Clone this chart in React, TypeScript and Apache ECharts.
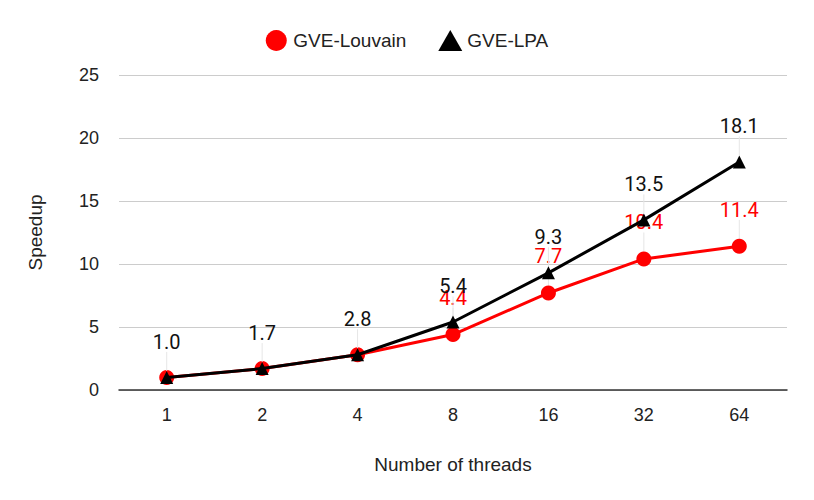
import React, { useEffect, useRef } from "react";
import * as echarts from "echarts";

const threads = ["1", "2", "4", "8", "16", "32", "64"];
const louvain = [1.0, 1.7, 2.8, 4.4, 7.7, 10.4, 11.4];
const lpa = [1.0, 1.7, 2.8, 5.4, 9.3, 13.5, 18.1];
// Louvain labels hidden where they coincide with the LPA labels
const louvainLabelShown = [false, false, false, true, true, true, true];

export default function App() {
  const ref = useRef<HTMLDivElement>(null);
  useEffect(() => {
    const chart = echarts.init(ref.current!, null, { renderer: "svg" });
    const font = "Liberation Sans";
    const labelFont = "Roboto";
    const mkLabel = (color: string) => ({
      show: true,
      position: "top",
      distance: 4,
      color,
      fontSize: 20,
      fontFamily: labelFont,
      formatter: (p: any) => Number(p.value).toFixed(1),
    });
    chart.setOption({
      animation: false,
      textStyle: { fontFamily: font },
      legend: {
        top: 17,
        left: "center",
        itemGap: 32,
        itemWidth: 24,
        itemHeight: 21,
        textStyle: { fontSize: 19, color: "#222", fontFamily: font },
        data: [
          { name: "GVE-Louvain", icon: "circle" },
          { name: "GVE-LPA", icon: "triangle" },
        ],
      },
      grid: { left: 111, right: 19, top: 67, bottom: 102 },
      xAxis: {
        type: "category",
        data: threads,
        name: "Number of threads",
        nameLocation: "middle",
        nameGap: 65,
        nameTextStyle: { fontSize: 19, color: "#222", fontFamily: font },
        axisLine: { lineStyle: { color: "#333", width: 1.5 } },
        axisTick: { show: false },
        axisLabel: { fontSize: 18, color: "#222", margin: 16, fontFamily: font },
      },
      yAxis: {
        type: "value",
        min: 0,
        max: 25,
        interval: 5,
        name: "Speedup",
        nameLocation: "middle",
        nameGap: 74,
        nameTextStyle: { fontSize: 19, color: "#222", fontFamily: font },
        axisLine: { show: false },
        axisTick: { show: false },
        axisLabel: { fontSize: 18, color: "#222", margin: 20, fontFamily: font },
        splitLine: { lineStyle: { color: "#ccc", width: 1 } },
      },
      series: [
        {
          name: "GVE-Louvain",
          type: "line",
          data: louvain.map((v, i) => ({
            value: v,
            label: { show: louvainLabelShown[i] },
            labelLine: { show: louvainLabelShown[i] },
          })),
          symbol: "circle",
          symbolSize: 15,
          itemStyle: { color: "#ff0000" },
          lineStyle: { color: "#ff0000", width: 3 },
          label: mkLabel("#ff0000"),
          labelLayout: { dy: -15 },
          labelLine: { show: true, lineStyle: { color: "#e6e6e6", width: 1 } },
          z: 2,
        },
        {
          name: "GVE-LPA",
          type: "line",
          data: lpa,
          symbol: "triangle",
          symbolSize: 13,
          itemStyle: { color: "#000000" },
          lineStyle: { color: "#000000", width: 3 },
          label: mkLabel("#111"),
          labelLayout: { dy: -15 },
          labelLine: { show: true, lineStyle: { color: "#e6e6e6", width: 1 } },
          z: 3,
        },
      ],
    });
    return () => chart.dispose();
  }, []);
  return <div ref={ref} style={{ width: 798, height: 484 }} />;
}
